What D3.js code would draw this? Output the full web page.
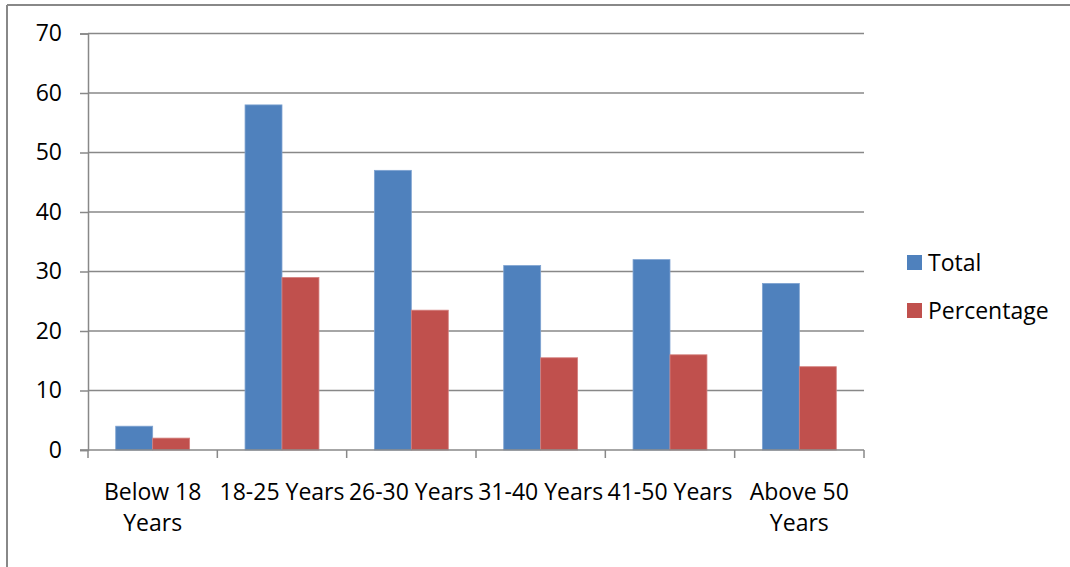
<!DOCTYPE html>
<html>
<head>
<meta charset="utf-8">
<script src="https://cdn.jsdelivr.net/npm/d3@7/dist/d3.min.js"></script>
<style>
  html, body { margin: 0; padding: 0; background: #fff; }
  svg { display: block; font-family: "Open Sans", Lato, "Liberation Sans", sans-serif; }
</style>
</head>
<body>
<svg id="chart" width="1070" height="567"></svg>
<script>
// Respondents by age group
const categories = [["Below 18", "Years"], ["18-25 Years"], ["26-30 Years"], ["31-40 Years"], ["41-50 Years"], ["Above 50", "Years"]];
const totalValues = [4, 58, 47, 31, 32, 28];
const percentageValues = [2, 29, 23.5, 15.5, 16, 14];
const seriesNames = ["Total", "Percentage"];
const yTicks = [0, 10, 20, 30, 40, 50, 60, 70];

const colors = ["#4F81BD", "#C0504D"];
const edgeColors = ["#7FA3D1", "#D4817F"];
const gridColor = "#888888";
const fontSize = 23;

const svg = d3.select("#chart");

// outer frame (top and left edges visible)
svg.append("line").attr("x1", 7).attr("x2", 1070).attr("y1", 5).attr("y2", 5)
  .attr("stroke", gridColor).attr("stroke-width", 2);
svg.append("line").attr("x1", 7).attr("x2", 7).attr("y1", 5).attr("y2", 567)
  .attr("stroke", gridColor).attr("stroke-width", 2);

const plot = { left: 88, right: 864, top: 33.5, bottom: 450 };

const x = d3.scaleBand()
  .domain(d3.range(categories.length))
  .range([plot.left, plot.right])
  .paddingInner(0).paddingOuter(0);

const y = d3.scaleLinear().domain([0, 70]).range([plot.bottom, plot.top]);

const xSub = d3.scaleBand()
  .domain(seriesNames)
  .range([0, x.bandwidth()])
  .paddingOuter(0.75);

// horizontal gridlines
svg.append("g")
  .selectAll("line")
  .data(yTicks.filter(t => t > 0))
  .join("line")
  .attr("x1", plot.left).attr("x2", plot.right)
  .attr("y1", d => y(d)).attr("y2", d => y(d))
  .attr("stroke", gridColor).attr("stroke-width", 1.5);

// y axis
const yAxis = svg.append("g")
  .attr("transform", `translate(${plot.left},0)`)
  .call(d3.axisLeft(y).tickValues(yTicks).tickSize(8).tickPadding(18));
yAxis.select(".domain").attr("stroke", gridColor).attr("stroke-width", 1.5);
yAxis.selectAll(".tick line").attr("stroke", gridColor).attr("stroke-width", 1.5);
yAxis.selectAll(".tick text").attr("font-size", fontSize).attr("fill", "#000")
  .attr("font-family", "'Open Sans', Lato, sans-serif");

// bars
const series = [totalValues, percentageValues];
const groups = svg.append("g");
series.forEach((vals, si) => {
  groups.append("g")
    .selectAll("rect")
    .data(vals)
    .join("rect")
    .attr("x", (d, i) => x(i) + xSub(seriesNames[si]))
    .attr("width", xSub.bandwidth())
    .attr("y", d => y(d))
    .attr("height", d => y(0) - y(d))
    .attr("fill", colors[si])
    .attr("stroke", edgeColors[si])
    .attr("stroke-width", 0.8);
});

// x axis with category boundary ticks
const xAxisG = svg.append("g");
xAxisG.append("line")
  .attr("x1", plot.left - 8).attr("x2", plot.right)
  .attr("y1", y(0)).attr("y2", y(0))
  .attr("stroke", gridColor).attr("stroke-width", 1.5);
const boundaries = d3.range(categories.length + 1).map(i => plot.left + i * x.step());
xAxisG.selectAll("line.bt")
  .data(boundaries)
  .join("line")
  .attr("class", "bt")
  .attr("x1", d => d).attr("x2", d => d)
  .attr("y1", y(0)).attr("y2", y(0) + 8)
  .attr("stroke", gridColor).attr("stroke-width", 1.5);

// category labels
const labels = xAxisG.selectAll("text.cat")
  .data(categories)
  .join("text")
  .attr("class", "cat")
  .attr("text-anchor", "middle")
  .attr("font-size", fontSize)
  .attr("fill", "#000")
  .attr("x", (d, i) => x(i) + x.bandwidth() / 2)
  .attr("y", 500);
labels.selectAll("tspan")
  .data(d => d)
  .join("tspan")
  .attr("x", function () { return d3.select(this.parentNode).attr("x"); })
  .attr("dy", (d, i) => i === 0 ? 0 : 31)
  .text(d => d);

// legend
const legend = svg.append("g").attr("transform", "translate(907,255)");
seriesNames.forEach((name, i) => {
  const g = legend.append("g").attr("transform", `translate(0,${i * 48})`);
  g.append("rect").attr("width", 15).attr("height", 15).attr("fill", colors[i]);
  g.append("text").attr("x", 21).attr("y", 16).attr("font-size", fontSize).attr("fill", "#000").text(name);
});
</script>
</body>
</html>
